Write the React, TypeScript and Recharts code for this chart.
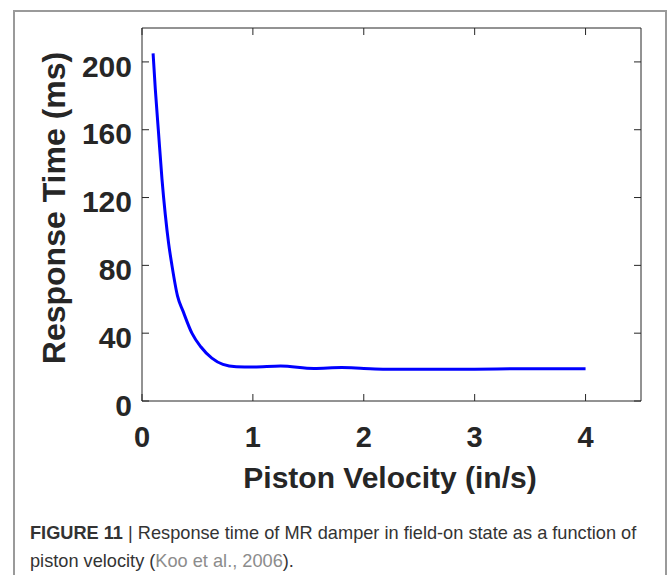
import { LineChart, Line, XAxis, YAxis } from "recharts";

const velocity = [0.1, 0.12, 0.147, 0.18, 0.21, 0.24, 0.27, 0.32, 0.37, 0.45, 0.53, 0.63, 0.73, 0.85, 1.0, 1.25, 1.55, 1.8, 2.0, 2.2, 3.0, 3.4, 4.0];
const responseMs = [205, 184, 160, 131, 110, 93, 80, 62, 53, 40, 32, 25.3, 21.6, 20.2, 20, 20.6, 19.2, 19.7, 19.2, 18.8, 18.8, 19.0, 19.0];
const xTicks = [0, 1, 2, 3, 4];
const yTicks = [0, 40, 80, 120, 160, 200];

const data = velocity.map((v, i) => ({ v, t: responseMs[i] }));

const font = "'Liberation Sans', Arial, Helvetica, sans-serif";
const ink = "#262626";
const xDomain = [0, 4.5];
const yDomain = [0, 220];

// tick-mark-only axes (inward ticks on all four sides)
const NoLabel = () => <g />;

export default function App() {
  return (
    <div
      style={{
        position: "absolute",
        left: 0,
        top: 0,
        width: 672,
        height: 575,
        overflow: "hidden",
        background: "#fff",
        fontFamily: font,
      }}
    >
      {/* figure frame */}
      <div
        style={{
          position: "absolute",
          left: 13,
          top: 10,
          width: 654,
          height: 620,
          border: "2px solid #9a9a9a",
          boxSizing: "border-box",
        }}
      />
      <div style={{ position: "absolute", left: 0, top: 0 }}>
        <LineChart width={672} height={575} data={data} margin={{ top: 28, right: 31, bottom: 0, left: 0 }}>
          <XAxis
            dataKey="v"
            type="number"
            domain={xDomain}
            ticks={xTicks}
            height={174}
            tickLine={false}
            tickSize={0}
            tickMargin={25}
            stroke={ink}
            tick={{ fill: ink, fontSize: 29, fontWeight: 700, fontFamily: font }}
          />
          <YAxis
            type="number"
            domain={yDomain}
            ticks={yTicks}
            width={142}
            tickLine={false}
            tickSize={0}
            tickMargin={10}
            stroke={ink}
            tick={{ fill: ink, fontSize: 30, fontWeight: 700, fontFamily: font, dy: 4 }}
          />
          <XAxis
            xAxisId="bottomTicks"
            dataKey="v"
            orientation="bottom"
            type="number"
            domain={xDomain}
            ticks={xTicks}
            height={1}
            tickSize={7}
            mirror
            axisLine={false}
            tick={NoLabel}
            stroke={ink}
          />
          <YAxis
            yAxisId="leftTicks"
            orientation="left"
            type="number"
            domain={yDomain}
            ticks={yTicks}
            width={1}
            tickSize={7}
            mirror
            axisLine={false}
            tick={NoLabel}
            stroke={ink}
          />
          <XAxis
            xAxisId="top"
            dataKey="v"
            orientation="top"
            type="number"
            domain={xDomain}
            ticks={xTicks}
            height={1}
            tickSize={7}
            mirror
            tick={NoLabel}
            stroke={ink}
          />
          <YAxis
            yAxisId="right"
            orientation="right"
            type="number"
            domain={yDomain}
            ticks={yTicks}
            width={1}
            tickSize={7}
            mirror
            tick={NoLabel}
            stroke={ink}
          />
          {/* invisible copies that bind the frame axes */}
          <Line
            xAxisId="top"
            yAxisId="right"
            dataKey="t"
            stroke="none"
            dot={false}
            activeDot={false}
            legendType="none"
            isAnimationActive={false}
          />
          <Line
            xAxisId="bottomTicks"
            yAxisId="leftTicks"
            dataKey="t"
            stroke="none"
            dot={false}
            activeDot={false}
            legendType="none"
            isAnimationActive={false}
          />
          <Line
            type="monotone"
            dataKey="t"
            stroke="#0000ff"
            strokeWidth={3}
            dot={false}
            isAnimationActive={false}
          />
        </LineChart>
      </div>
      {/* axis titles */}
      <div
        style={{
          position: "absolute",
          left: 390,
          top: 478,
          transform: "translate(-50%, -50%)",
          fontSize: 30,
          fontWeight: 700,
          lineHeight: 1,
          color: ink,
          whiteSpace: "nowrap",
        }}
      >
        Piston Velocity (in/s)
      </div>
      <div
        style={{
          position: "absolute",
          left: 54,
          top: 208,
          transform: "translate(-50%, -50%) rotate(-90deg)",
          fontSize: 32,
          fontWeight: 700,
          lineHeight: 1,
          color: ink,
          whiteSpace: "nowrap",
        }}
      >
        Response Time (ms)
      </div>
      {/* caption */}
      <div
        style={{
          position: "absolute",
          left: 30,
          top: 519,
          fontSize: 18.2,
          lineHeight: "28px",
          color: "#333",
          whiteSpace: "nowrap",
        }}
      >
        <span style={{ fontWeight: 700 }}>FIGURE 11</span> | Response time of MR damper in field-on state as a function of
        <br />
        piston velocity (<span style={{ color: "#8c8c8c" }}>Koo et al., 2006</span>).
      </div>
    </div>
  );
}
